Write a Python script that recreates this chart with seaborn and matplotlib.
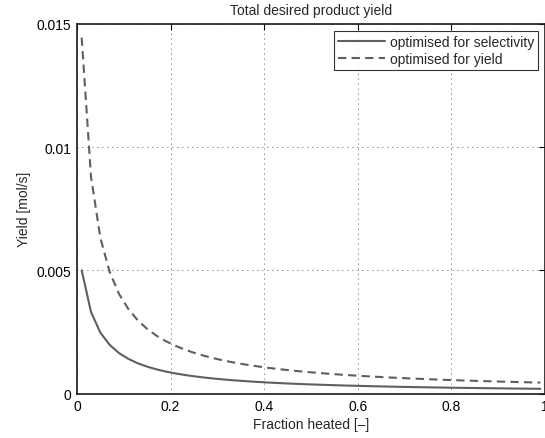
import numpy as np
import pandas as pd
import matplotlib
matplotlib.use('Agg')
import matplotlib.pyplot as plt
import seaborn as sns

# fraction heated (x) and yield for both optimisations
fraction = [0.01, 0.03, 0.05, 0.07, 0.09, 0.11, 0.13, 0.15, 0.17, 0.19,
            0.21, 0.23, 0.25, 0.27, 0.29, 0.31, 0.33, 0.35, 0.37, 0.39,
            0.41, 0.43, 0.45, 0.47, 0.49, 0.51, 0.53, 0.55, 0.57, 0.59,
            0.61, 0.63, 0.65, 0.67, 0.69, 0.71, 0.73, 0.75, 0.77, 0.79,
            0.81, 0.83, 0.85, 0.87, 0.89, 0.91, 0.93, 0.95, 0.97, 0.99]

yield_selectivity = [0.005000, 0.003305, 0.002468, 0.001970, 0.001639, 0.001403, 0.001226, 0.001089, 0.000980, 0.000890,
                     0.000816, 0.000753, 0.000699, 0.000652, 0.000611, 0.000575, 0.000543, 0.000515, 0.000489, 0.000465,
                     0.000444, 0.000425, 0.000407, 0.000391, 0.000376, 0.000362, 0.000349, 0.000337, 0.000326, 0.000315,
                     0.000305, 0.000296, 0.000287, 0.000279, 0.000271, 0.000264, 0.000257, 0.000250, 0.000244, 0.000238,
                     0.000232, 0.000227, 0.000222, 0.000217, 0.000212, 0.000208, 0.000203, 0.000199, 0.000195, 0.000191]

yield_yield = [0.014450, 0.008784, 0.006310, 0.004923, 0.004036, 0.003420, 0.002967, 0.002620, 0.002346, 0.002123,
               0.001939, 0.001785, 0.001653, 0.001540, 0.001441, 0.001353, 0.001276, 0.001208, 0.001146, 0.001090,
               0.001039, 0.000993, 0.000951, 0.000912, 0.000877, 0.000844, 0.000813, 0.000785, 0.000758, 0.000733,
               0.000710, 0.000688, 0.000668, 0.000648, 0.000630, 0.000613, 0.000597, 0.000581, 0.000566, 0.000552,
               0.000539, 0.000526, 0.000514, 0.000503, 0.000492, 0.000481, 0.000471, 0.000461, 0.000452, 0.000443]

series_names = ['optimised for selectivity', 'optimised for yield']

df = pd.DataFrame({
    'fraction': fraction * 2,
    'yield': yield_selectivity + yield_yield,
    'serie': [series_names[0]] * len(fraction) + [series_names[1]] * len(fraction),
})

sns.set_style('white')
plt.rcParams['font.family'] = ['Liberation Sans', 'DejaVu Sans']
plt.rcParams['font.size'] = 10

fig = plt.figure(figsize=(5.45, 4.39), dpi=100)
ax = fig.add_axes([77 / 545, 1 - 394.5 / 439, 468 / 545, 369.5 / 439])

sns.lineplot(data=df, x='fraction', y='yield', hue='serie', style='serie',
             palette=['#5f5f5f', '#5f5f5f'], dashes=[(None, None), (4, 2.5)],
             linewidth=1.5, ax=ax)

ax.set_xlim(0, 1)
ax.set_ylim(0, 0.015)
ax.set_xticks([0, 0.2, 0.4, 0.6, 0.8, 1])
ax.set_xticklabels(['0', '0.2', '0.4', '0.6', '0.8', '1'])
ax.set_yticks([0, 0.005, 0.01, 0.015])
ax.set_yticklabels(['0', '0.005', '0.01', '0.015'])
ax.grid(True, linestyle=(0, (1, 5)), color='#222222', linewidth=0.6)
ax.tick_params(direction='in', length=4, width=0.8, top=True, right=True,
               labelsize=10, colors='black', pad=4)
for s in ax.spines.values():
    s.set_color('#1a1a1a')
    s.set_linewidth(1.2)

ax.set_xlabel('Fraction heated [–]', fontsize=10, labelpad=3)
ax.set_ylabel('Yield [mol/s]', fontsize=10, labelpad=4)
ax.set_title('Total desired product yield', fontsize=10, pad=7)

leg = ax.legend(loc='upper right', frameon=True, fancybox=False, fontsize=10,
                borderpad=0.3, handlelength=3.4, labelspacing=0.2,
                handletextpad=0.3, borderaxespad=0.5)
leg.set_title(None)
leg.get_frame().set_edgecolor('black')
leg.get_frame().set_linewidth(0.8)

fig.savefig('out.png', dpi=100)
